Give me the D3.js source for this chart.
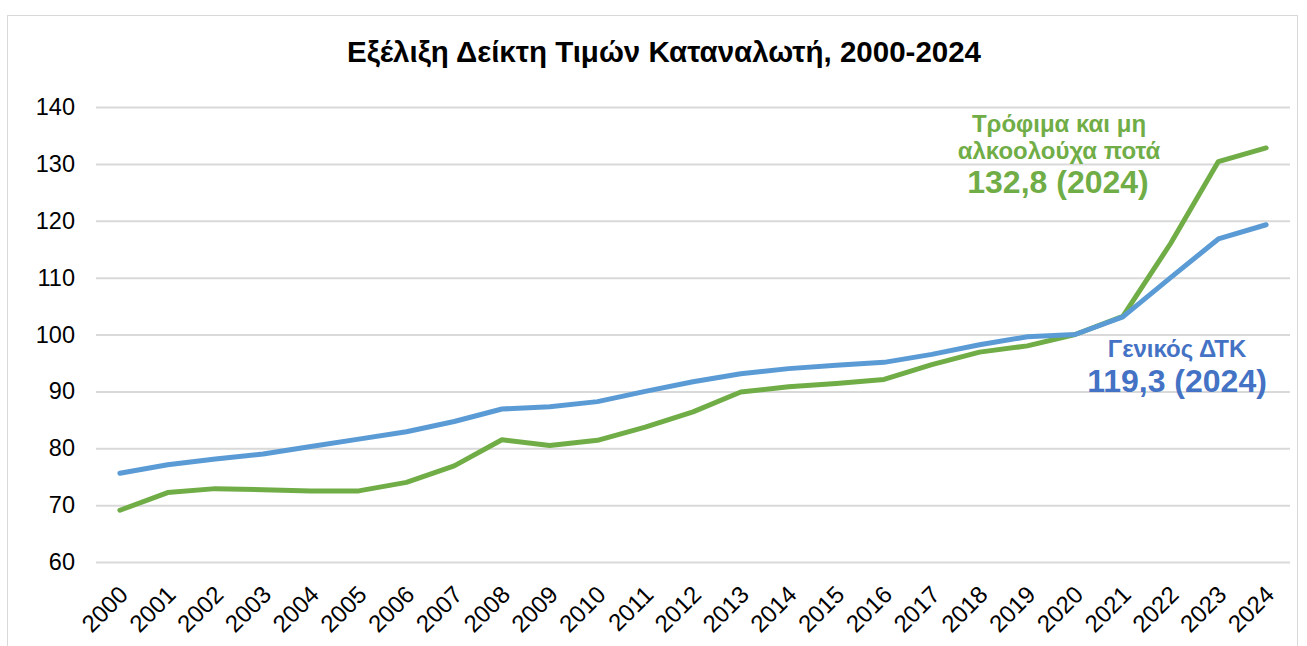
<!DOCTYPE html>
<html>
<head>
<meta charset="utf-8">
<script src="https://cdn.jsdelivr.net/npm/d3@7"></script>
<style>
  body { margin: 0; background: #fff; }
  text { font-family: "Liberation Sans", Arial, sans-serif; }
</style>
</head>
<body>
<div id="container"></div>
<script>
/* DATA */
var years = ["2000","2001","2002","2003","2004","2005","2006","2007","2008","2009","2010","2011","2012",
             "2013","2014","2015","2016","2017","2018","2019","2020","2021","2022","2023","2024"];
var generalCpi = [75.6,77.1,78.1,79.0,80.3,81.6,82.9,84.7,86.9,87.3,88.2,90.0,91.7,
                  93.1,94.0,94.6,95.1,96.5,98.2,99.6,100.0,103.1,110.0,116.8,119.3];
var foodCpi = [69.1,72.2,72.9,72.7,72.5,72.5,74.0,76.9,81.5,80.5,81.4,83.7,86.4,
               89.9,90.8,91.4,92.1,94.7,96.9,98.0,100.0,103.2,116.0,130.4,132.8];
var yTicks = [60,70,80,90,100,110,120,130,140];

var width = 1307,
    height = 646,
    margin = {top: 107, right: 17, bottom: 84, left: 96};

var svg = d3.select('#container').append('svg')
    .attr('width', width)
    .attr('height', height);

// chart frame
svg.append('rect')
    .attr('x', 7.5).attr('y', 15.5)
    .attr('width', 1290).attr('height', 700)
    .attr('fill', 'none')
    .attr('stroke', '#d9d9d9');

/* SCALES */
var xScale = d3.scalePoint()
    .domain(years)
    .range([margin.left, width - margin.right])
    .padding(0.5);

var yScale = d3.scaleLinear()
    .domain([60, 140])
    .range([height - margin.bottom, margin.top]);

// title
svg.append('text')
    .attr('x', 664).attr('y', 62)
    .attr('text-anchor', 'middle')
    .style('font-size', '29.5px')
    .style('font-weight', 'bold')
    .text('Εξέλιξη Δείκτη Τιμών Καταναλωτή, 2000-2024');

// y axis + grid
var yAxis = svg.append('g')
    .attr('transform', 'translate(' + margin.left + ',0)')
    .call(d3.axisLeft(yScale).tickValues(yTicks)
        .tickSize(-(width - margin.left - margin.right))
        .tickPadding(21));
yAxis.select('.domain').remove();
yAxis.selectAll('.tick line').attr('stroke', '#d9d9d9').attr('stroke-width', 2);
yAxis.selectAll('.tick text')
    .style('font-size', '23.5px')
    .attr('fill', '#000');

// x axis labels
var xAxis = svg.append('g')
    .attr('transform', 'translate(0,' + (height - margin.bottom) + ')')
    .call(d3.axisBottom(xScale).tickSize(0));
xAxis.select('.domain').remove();
xAxis.selectAll('.tick text')
    .style('font-size', '24px')
    .attr('fill', '#000')
    .attr('text-anchor', 'end')
    .attr('dy', 0)
    .attr('transform', 'translate(7,32) rotate(-45)');

// lines
var line = d3.line()
    .x(function(d, i) { return xScale(years[i]); })
    .y(function(d) { return yScale(d); });

svg.append('path')
    .datum(foodCpi)
    .attr('d', line)
    .attr('fill', 'none')
    .attr('stroke', '#70ad47')
    .attr('stroke-width', 5)
    .attr('stroke-linecap', 'round')
    .attr('stroke-linejoin', 'round');

svg.append('path')
    .datum(generalCpi)
    .attr('d', line)
    .attr('fill', 'none')
    .attr('stroke', '#5b9bd5')
    .attr('stroke-width', 5)
    .attr('stroke-linecap', 'round')
    .attr('stroke-linejoin', 'round');

// annotations
var green = svg.append('g').attr('fill', '#70ad47').attr('text-anchor', 'middle')
    .style('font-weight', 'bold');
green.append('text').attr('x', 1059).attr('y', 132).style('font-size', '24px').text('Τρόφιμα και μη');
green.append('text').attr('x', 1059).attr('y', 159).style('font-size', '24px').text('αλκοολούχα ποτά');
green.append('text').attr('x', 1058).attr('y', 193).style('font-size', '32px').text('132,8 (2024)');

var blue = svg.append('g').attr('fill', '#4472c4').attr('text-anchor', 'middle')
    .style('font-weight', 'bold');
blue.append('text').attr('x', 1177).attr('y', 357).style('font-size', '24px').text('Γενικός ΔΤΚ');
blue.append('text').attr('x', 1177).attr('y', 392).style('font-size', '32px').text('119,3 (2024)');
</script>
</body>
</html>
